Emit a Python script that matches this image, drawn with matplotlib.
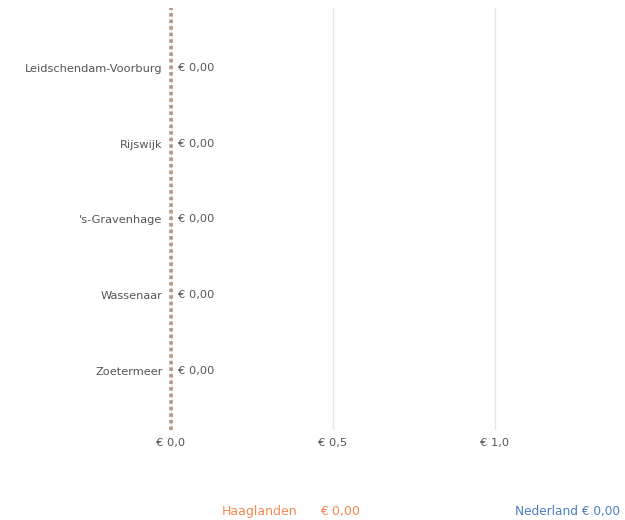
import matplotlib.pyplot as plt

# gemeenten en waarden
gemeenten = ["Leidschendam-Voorburg", "Rijswijk", "'s-Gravenhage", "Wassenaar", "Zoetermeer"]
waarden = [0.0, 0.0, 0.0, 0.0, 0.0]
xticks = [0.0, 0.5, 1.0]
xticklabels = ["€ 0,0", "€ 0,5", "€ 1,0"]
haaglanden = 0.0
nederland = 0.0

plt.rcParams['font.family'] = ['DejaVu Sans']

fig = plt.figure(figsize=(6.25, 5.2), dpi=100)
ax = fig.add_axes([0.2735, 0.173, 0.7258, 0.8116])

ypos = list(range(len(gemeenten)))
ax.barh(ypos, waarden, height=0.5, color="#f5884f")
for y, v in zip(ypos, waarden):
    ax.text(v + 0.022, y, "€ " + f"{v:.2f}".replace(".", ","), va="center", ha="left",
            fontsize=8.2, color="#555555")

# stippellijn voor Haaglanden gemiddelde
ax.axvline(haaglanden, color="#b8998a", lw=2.7, linestyle=(0, (0.95, 0.8)), zorder=3, clip_on=False)

ax.set_xlim(0, 1.4)
ax.set_ylim(4.78, -0.79)
ax.set_yticks(ypos)
ax.set_yticklabels(gemeenten, fontsize=8.2, color="#555555")
ax.set_xticks(xticks)
ax.set_xticklabels(xticklabels, fontsize=8.2, color="#555555")
ax.tick_params(axis="y", length=0, pad=6)
ax.tick_params(axis="x", length=0, pad=6)
ax.grid(axis="x", color="#e6e6e6", lw=1)
ax.set_axisbelow(True)
for s in ax.spines.values():
    s.set_visible(False)

fig.text(222/625, 1 - 511/520, "Haaglanden", color="#f5884f", fontsize=9, va="center")
fig.text(320/625, 1 - 511/520, "€ " + f"{haaglanden:.2f}".replace(".", ","), color="#f5884f",
         fontsize=9, va="center")
fig.text(620/625, 1 - 511/520, "Nederland € " + f"{nederland:.2f}".replace(".", ","),
         color="#4a7fc1", fontsize=8.7, va="center", ha="right")

fig.savefig("out.png")
